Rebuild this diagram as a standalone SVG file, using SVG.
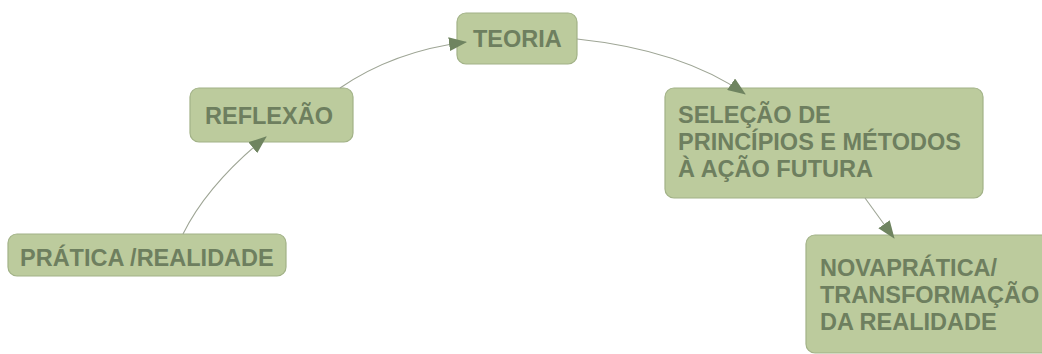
<svg xmlns="http://www.w3.org/2000/svg" width="1042" height="354" viewBox="0 0 1042 354">
<style>
.box{fill:#bccb9d;stroke:#a2b287;stroke-width:1.2}
.lbl{font-family:"Liberation Sans",Arial,sans-serif;font-weight:bold;font-size:23.5px;fill:#6e7f5f}
.edge{fill:none;stroke:#9ea595;stroke-width:1.1}
</style>
<defs>
<marker id="arr" viewBox="0 0 18 14" refX="17" refY="7" markerWidth="18" markerHeight="14" markerUnits="userSpaceOnUse" orient="auto">
<path d="M0,0 L18,7 L0,14 Z" fill="#6f8460"/>
</marker>
</defs>
<rect width="1042" height="354" fill="#ffffff"/>
<g id="pratica">
<rect class="box" x="8" y="234" width="278" height="42" rx="9"/>
<text class="lbl" x="20" y="266">PRÁTICA /REALIDADE</text>
</g>
<g id="reflexao">
<rect class="box" x="190" y="88" width="163" height="54" rx="9"/>
<text class="lbl" x="205" y="124">REFLEXÃO</text>
</g>
<g id="teoria">
<rect class="box" x="457" y="13" width="120" height="51" rx="9"/>
<text class="lbl" x="473" y="47">TEORIA</text>
</g>
<g id="selecao">
<rect class="box" x="665" y="88" width="318" height="110" rx="9"/>
<text class="lbl" x="678" y="123">SELEÇÃO DE</text>
<text class="lbl" x="678" y="150">PRINCÍPIOS E MÉTODOS</text>
<text class="lbl" x="678" y="177">À AÇÃO FUTURA</text>
</g>
<g id="novapratica">
<rect class="box" x="806" y="235" width="260" height="118" rx="9"/>
<text class="lbl" x="820" y="276">NOVAPRÁTICA/</text>
<text class="lbl" x="820" y="303">TRANSFORMAÇÃO</text>
<text class="lbl" x="820" y="330">DA REALIDADE</text>
</g>
<g id="connectors">
<path class="edge" d="M183,234 Q208,184 266,137" marker-end="url(#arr)"/>
<path class="edge" d="M340,88 Q394,51 466,42" marker-end="url(#arr)"/>
<path class="edge" d="M577,39 Q682,50 745,94" marker-end="url(#arr)"/>
<path class="edge" d="M865,198 L894,238" marker-end="url(#arr)"/>
</g>
</svg>
